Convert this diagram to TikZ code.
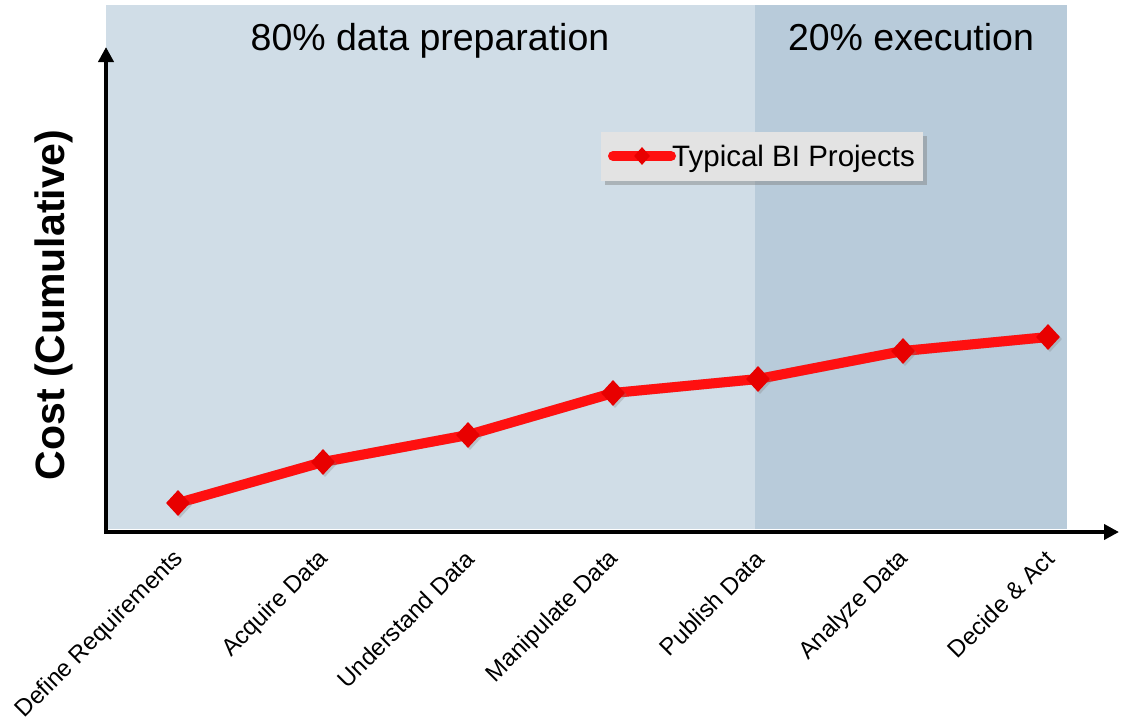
\documentclass[tikz,border=0pt]{standalone}
\usepackage{fontspec}
\setmainfont{Liberation Sans}
\usetikzlibrary{calc,shapes.geometric,shadows,arrows.meta}
\definecolor{prepblue}{RGB}{208,221,231}
\definecolor{execblue}{RGB}{184,203,218}
\definecolor{legendgray}{RGB}{227,227,227}
\definecolor{costred}{RGB}{255,16,16}
\definecolor{markred}{RGB}{232,0,0}
\tikzset{
  axisline/.style={line width=4pt, {Triangle[length=15pt,width=15pt]}-{Triangle[length=15pt,width=15pt]}},
  costline/.style={costred, line width=10pt, line join=round},
  marker/.style={diamond, fill=markred, inner sep=0pt, minimum width=24pt, minimum height=26pt,
    drop shadow={opacity=0.3, shadow xshift=2pt, shadow yshift=-2pt}},
  legendmarker/.style={diamond, fill=markred, inner sep=0pt, minimum width=16pt, minimum height=18pt},
  legendbox/.style={fill=legendgray, inner sep=0pt, minimum width=322pt, minimum height=49pt,
    drop shadow={opacity=0.45, shadow xshift=4pt, shadow yshift=-4pt}},
  ticklabel/.style={anchor=east, rotate=45, inner sep=0pt, font=\fontsize{24}{28}\selectfont},
  phaselabel/.style={anchor=base, inner sep=0pt, font=\fontsize{37.5}{44}\selectfont},
}
\begin{document}
\begin{tikzpicture}[x=1pt,y=-1pt]
\useasboundingbox (0,0) rectangle (1123,720);
% shaded phases
\fill[prepblue] (106,5) rectangle (755,529);
\fill[execblue] (755,5) rectangle (1067,529);
\node[phaselabel] (prep) at (430,50) {80\% data preparation};
\node[phaselabel] (exec) at (911,50) {20\% execution};

% axes
\coordinate (origin) at (106,532);
\coordinate (ytip) at (106,47);
\coordinate (xtip) at (1119,532);
\draw[axisline] (ytip) -- (origin) -- (xtip);
\node[anchor=base, rotate=90, inner sep=0pt, font=\fontsize{41}{48}\selectfont\bfseries] (ylabel) at (64,305) {Cost (Cumulative)};

% cost curve
\coordinate (p1) at (178,503);
\coordinate (p2) at (323,462);
\coordinate (p3) at (468,435);
\coordinate (p4) at (613,393);
\coordinate (p5) at (758,379);
\coordinate (p6) at (903,351);
\coordinate (p7) at (1048,337);
\draw[black, opacity=0.18, line width=10pt, line join=round, shift={(2,2)}] (p1) -- (p2) -- (p3) -- (p4) -- (p5) -- (p6) -- (p7);
\draw[costline] (p1) -- (p2) -- (p3) -- (p4) -- (p5) -- (p6) -- (p7);
\foreach \i in {1,...,7}
  \node[marker] (m\i) at (p\i) {};

% categories
\foreach \lab [count=\i] in {Define Requirements, Acquire Data, Understand Data, Manipulate Data, Publish Data, Analyze Data, {Decide \& Act}}
  \node[ticklabel] (cat\i) at ($(p\i |- origin)+(2,23)$) {\lab};

% legend
\node[legendbox, anchor=north west] (legend) at (601,132) {};
\coordinate (lstart) at (613,156);
\coordinate (lend) at (671,156);
\draw[costline, line cap=round] (lstart) -- (lend);
\node[legendmarker] (lmark) at (642,156) {};
\node[anchor=base west, inner sep=0pt, font=\fontsize{29.5}{35}\selectfont] (legtext) at (672,166) {Typical BI Projects};
\end{tikzpicture}
\end{document}
